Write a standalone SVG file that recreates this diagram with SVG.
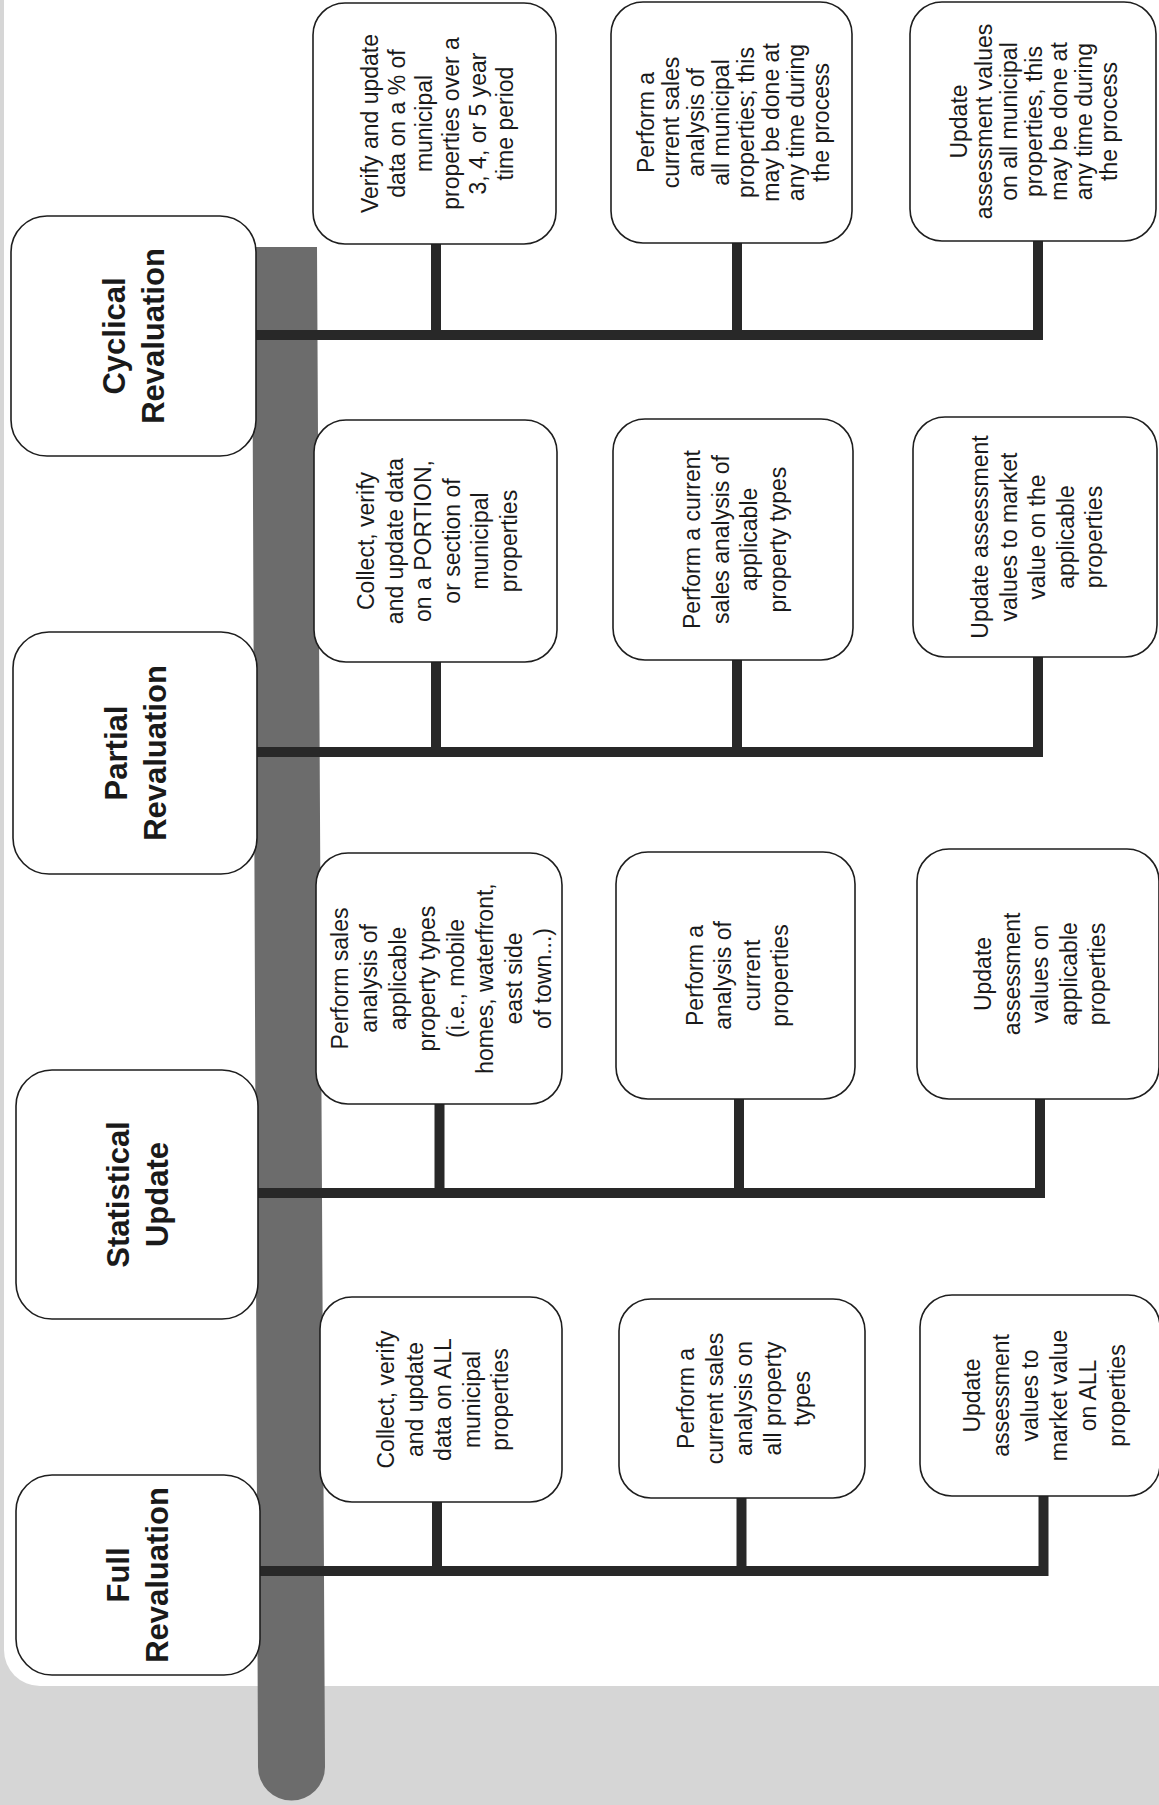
<svg xmlns="http://www.w3.org/2000/svg" width="1159" height="1805" viewBox="0 0 1159 1805">
<style>
.bg{fill:#d6d6d6}
.panel{fill:#ffffff}
.trunk{fill:#6c6c6c}
.cat rect,.task rect{fill:#ffffff;stroke:#1e1e1e;stroke-width:1.6}
.cat text{font-family:"Liberation Sans",Arial,sans-serif;font-weight:bold;font-size:31px;fill:#1a1a1a;text-anchor:middle}
.task text{font-family:"Liberation Sans",Arial,sans-serif;font-size:23px;fill:#1a1a1a;text-anchor:middle}
.conn path{fill:none;stroke:#282828;stroke-width:10;stroke-linejoin:miter;stroke-linecap:butt}
</style>
<rect class="bg" x="0" y="0" width="1159" height="1805"/>
<rect class="panel" x="4" y="-50" width="1200" height="1736" rx="36"/>
<path id="trunk" class="trunk" d="M252,247 L317,247 L325,1767 A33.5,33.5 0 0 1 258,1767 Z"/>

<g id="connectors" class="conn">
  <path d="M256,335 H1038 V241"/>
  <path d="M436,335 V244"/>
  <path d="M737,335 V243"/>
  <path d="M257,752 H1038 V657"/>
  <path d="M436,752 V662"/>
  <path d="M737,752 V660"/>
  <path d="M258,1193 H1040 V1099"/>
  <path d="M439.5,1193 V1104"/>
  <path d="M739,1193 V1099"/>
  <path d="M260,1571 H1043.5 V1496"/>
  <path d="M437,1571 V1502"/>
  <path d="M741.5,1571 V1498"/>
</g>

<g id="cyclical" class="cat">
  <rect x="11" y="216" width="245" height="240" rx="36"/>
  <text transform="translate(134,336) rotate(-90)"><tspan x="0" y="-8.65">Cyclical</tspan><tspan x="0" y="30.35">Revaluation</tspan></text>
</g>
<g id="partial" class="cat">
  <rect x="13" y="632" width="244" height="242" rx="36"/>
  <text transform="translate(135.5,753) rotate(-90)"><tspan x="0" y="-8.65">Partial</tspan><tspan x="0" y="30.35">Revaluation</tspan></text>
</g>
<g id="statistical" class="cat">
  <rect x="16" y="1070" width="242" height="249" rx="36"/>
  <text transform="translate(138,1194.5) rotate(-90)"><tspan x="0" y="-8.65">Statistical</tspan><tspan x="0" y="30.35">Update</tspan></text>
</g>
<g id="full" class="cat">
  <rect x="16" y="1475" width="244" height="200" rx="36"/>
  <text transform="translate(138,1575) rotate(-90)"><tspan x="0" y="-8.65">Full</tspan><tspan x="0" y="30.35">Revaluation</tspan></text>
</g>

<g id="a1" class="task">
  <rect x="313" y="3" width="243" height="241" rx="32"/>
  <text transform="translate(437,123.5) rotate(-90)"><tspan x="0" y="-59.5">Verify and update</tspan><tspan x="0" y="-32.5">data on a % of</tspan><tspan x="0" y="-5.5">municipal</tspan><tspan x="0" y="21.5">properties over a</tspan><tspan x="0" y="48.5">3, 4, or 5 year</tspan><tspan x="0" y="75.5">time period</tspan></text>
</g>
<g id="a2" class="task">
  <rect x="611" y="2" width="241" height="241" rx="32"/>
  <text transform="translate(733,122.5) rotate(-90)"><tspan x="0" y="-79.5">Perform a</tspan><tspan x="0" y="-54.5">current sales</tspan><tspan x="0" y="-29.5">analysis of</tspan><tspan x="0" y="-4.5">all municipal</tspan><tspan x="0" y="20.5">properties; this</tspan><tspan x="0" y="45.5">may be done at</tspan><tspan x="0" y="70.5">any time during</tspan><tspan x="0" y="95.5">the process</tspan></text>
</g>
<g id="a3" class="task">
  <rect x="910" y="2" width="246" height="239" rx="32"/>
  <text transform="translate(1034,121.5) rotate(-90)"><tspan x="0" y="-67">Update</tspan><tspan x="0" y="-42">assessment values</tspan><tspan x="0" y="-17">on all municipal</tspan><tspan x="0" y="8">properties, this</tspan><tspan x="0" y="33">may be done at</tspan><tspan x="0" y="58">any time during</tspan><tspan x="0" y="83">the process</tspan></text>
</g>

<g id="b1" class="task">
  <rect x="314" y="420" width="243" height="242" rx="32"/>
  <text transform="translate(437.5,541) rotate(-90)"><tspan x="0" y="-63.25">Collect, verify</tspan><tspan x="0" y="-34.75">and update data</tspan><tspan x="0" y="-6.25">on a PORTION,</tspan><tspan x="0" y="22.25">or section of</tspan><tspan x="0" y="50.75">municipal</tspan><tspan x="0" y="79.25">properties</tspan></text>
</g>
<g id="b2" class="task">
  <rect x="613" y="419" width="240" height="241" rx="32"/>
  <text transform="translate(735,539.5) rotate(-90)"><tspan x="0" y="-34.75">Perform a current</tspan><tspan x="0" y="-6.25">sales analysis of</tspan><tspan x="0" y="22.25">applicable</tspan><tspan x="0" y="50.75">property types</tspan></text>
</g>
<g id="b3" class="task">
  <rect x="913" y="417" width="244" height="240" rx="32"/>
  <text transform="translate(1037,537) rotate(-90)"><tspan x="0" y="-49">Update assessment</tspan><tspan x="0" y="-20.5">values to market</tspan><tspan x="0" y="8">value on the</tspan><tspan x="0" y="36.5">applicable</tspan><tspan x="0" y="65">properties</tspan></text>
</g>

<g id="c1" class="task">
  <rect x="316" y="853" width="246" height="251" rx="32"/>
  <text transform="translate(441.5,978.5) rotate(-90)"><tspan x="0" y="-93.5">Perform sales</tspan><tspan x="0" y="-64.5">analysis of</tspan><tspan x="0" y="-35.5">applicable</tspan><tspan x="0" y="-6.5">property types</tspan><tspan x="0" y="22.5">(i.e., mobile</tspan><tspan x="0" y="51.5">homes, waterfront,</tspan><tspan x="0" y="80.5">east side</tspan><tspan x="0" y="109.5">of town...)</tspan></text>
</g>
<g id="c2" class="task">
  <rect x="616" y="852" width="239" height="247" rx="32"/>
  <text transform="translate(737.5,975.5) rotate(-90)"><tspan x="0" y="-34.75">Perform a</tspan><tspan x="0" y="-6.25">analysis of</tspan><tspan x="0" y="22.25">current</tspan><tspan x="0" y="50.75">properties</tspan></text>
</g>
<g id="c3" class="task">
  <rect x="917" y="849" width="242" height="250" rx="32"/>
  <text transform="translate(1040,974) rotate(-90)"><tspan x="0" y="-49">Update</tspan><tspan x="0" y="-20.5">assessment</tspan><tspan x="0" y="8">values on</tspan><tspan x="0" y="36.5">applicable</tspan><tspan x="0" y="65">properties</tspan></text>
</g>

<g id="d1" class="task">
  <rect x="320" y="1297" width="242" height="205" rx="32"/>
  <text transform="translate(443,1399.5) rotate(-90)"><tspan x="0" y="-49">Collect, verify</tspan><tspan x="0" y="-20.5">and update</tspan><tspan x="0" y="8">data on ALL</tspan><tspan x="0" y="36.5">municipal</tspan><tspan x="0" y="65">properties</tspan></text>
</g>
<g id="d2" class="task">
  <rect x="619" y="1299" width="246" height="199" rx="32"/>
  <text transform="translate(744,1398.5) rotate(-90)"><tspan x="0" y="-50">Perform a</tspan><tspan x="0" y="-21">current sales</tspan><tspan x="0" y="8">analysis on</tspan><tspan x="0" y="37">all property</tspan><tspan x="0" y="66">types</tspan></text>
</g>
<g id="d3" class="task">
  <rect x="920" y="1295" width="240" height="201" rx="32"/>
  <text transform="translate(1044,1395.5) rotate(-90)"><tspan x="0" y="-64.5">Update</tspan><tspan x="0" y="-35.5">assessment</tspan><tspan x="0" y="-6.5">values to</tspan><tspan x="0" y="22.5">market value</tspan><tspan x="0" y="51.5">on ALL</tspan><tspan x="0" y="80.5">properties</tspan></text>
</g>
</svg>
